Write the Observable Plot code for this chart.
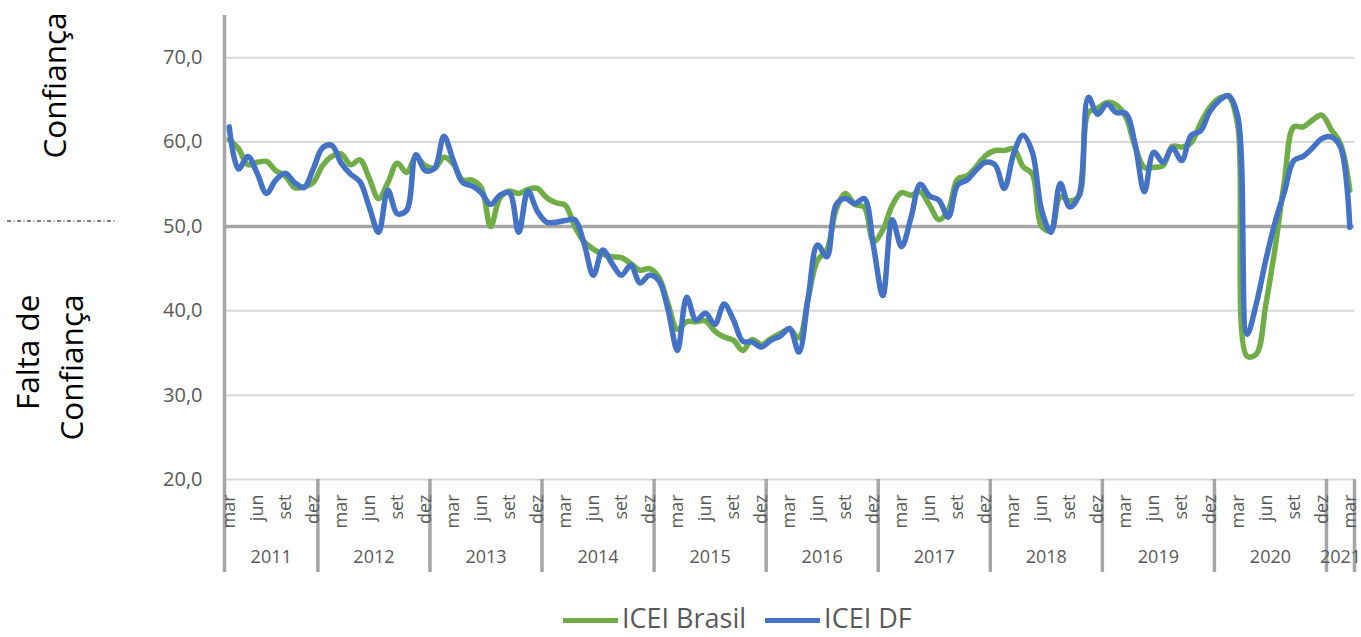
<!DOCTYPE html>
<html><head><meta charset="utf-8">
<script src="https://cdn.jsdelivr.net/npm/d3@7"></script>
<script src="https://cdn.jsdelivr.net/npm/@observablehq/plot@0.6"></script>
<style>
body{margin:0;background:#fff;font-family:"Open Sans",sans-serif;}
#wrap{position:relative;width:1361px;height:637px;overflow:hidden;background:#fff;}
#legend{position:absolute;left:563px;top:603px;height:29px;display:flex;align-items:center;font-family:"Open Sans",sans-serif;font-size:27px;line-height:29px;color:#595959;white-space:nowrap;}
.item{display:flex;align-items:center;margin-right:19px;}
.sw{width:55px;height:5px;margin-right:4px;margin-top:6px;}
#sep{position:absolute;left:0;top:215px;}
</style></head><body>
<div id="wrap"><div id="chart"></div>
<svg id="sep" width="120" height="12"><line x1="7" x2="115" y1="6" y2="6" stroke="#000" stroke-width="1" stroke-dasharray="4 2.5 1 2.5"/></svg>
<div id="legend"></div></div>
<script>
const monthNames = ["jan","fev","mar","abr","mai","jun","jul","ago","set","out","nov","dez"];
const years = [2011,2012,2013,2014,2015,2016,2017,2018,2019,2020,2021];
const tickMonths = ["mar","jun","set","dez"];
const yTicks = [20,30,40,50,60,70];
const seriesNames = ["ICEI Brasil","ICEI DF"];
const seriesColors = ["#70ad47","#4472c4"];

// ICEI Brasil, monthly mar/2011 - mar/2021
const iceiBrasil = [
 60.3,59.2,57.3,57.6,57.7,56.6,56.0,54.6,54.7,55.2,
 57.2,58.3,58.6,57.3,57.9,55.7,53.3,55.2,57.5,56.4,58.2,57.2,
 56.9,58.2,57.4,55.5,55.5,54.6,50.0,53.4,54.2,53.9,54.4,54.5,
 53.4,52.8,52.5,50.0,48.2,47.3,46.7,46.4,46.3,45.6,44.8,45.0,
 44.0,40.8,37.8,38.7,38.7,38.8,37.6,36.9,36.5,35.3,36.6,36.0,
 36.7,37.3,37.8,36.8,41.5,46.0,47.2,52.0,53.9,52.6,52.3,48.2,
 49.6,52.5,54.0,53.7,54.1,52.5,50.8,51.9,55.6,56.0,57.1,58.4,
 59.0,59.0,59.2,57.1,56.2,50.0,49.5,53.5,53.0,53.6,63.5,64.0,
 64.7,64.4,63.0,59.5,57.0,57.0,57.2,59.5,59.4,59.9,62.2,64.1,
 65.2,65.4,62.0,34.6,34.9,40.7,47.5,55.4,61.8,61.8,62.6,63.2,
 61.5,59.8,54.3
];
// ICEI DF, monthly mar/2011 - mar/2021
const iceiDF = [
 61.8,56.8,58.3,56.3,53.9,55.5,56.3,55.2,54.6,56.8,
 59.3,59.6,57.5,56.2,55.3,52.3,49.3,54.3,51.5,51.9,58.5,56.6,
 56.9,60.7,57.8,55.2,54.8,54.0,52.6,53.7,54.0,49.3,54.2,51.8,
 50.5,50.5,50.7,50.8,48.0,44.2,47.2,45.6,44.2,45.4,43.3,44.2,
 43.6,40.1,35.3,41.6,38.9,39.7,38.4,40.8,38.9,36.4,36.3,35.7,
 36.5,37.0,37.9,35.1,41.5,47.8,46.4,52.6,53.3,52.7,53.3,47.6,
 41.8,50.8,47.6,51.0,55.0,53.6,53.1,51.1,54.9,55.5,56.7,57.6,
 57.3,54.5,58.6,60.8,58.8,51.9,49.3,55.1,52.3,53.7,65.3,63.3,
 64.5,63.5,63.4,59.8,54.1,58.8,57.6,59.3,57.8,60.8,61.3,63.6,
 64.9,65.5,63.0,37.2,40.9,46.0,50.5,54.1,57.8,58.3,59.3,60.4,
 60.6,59.4,49.9
];

// categories
const periods = [];
for (const yr of years) {
  monthNames.forEach((m, k) => {
    if (yr === 2011 && k < 2) return;
    if (yr === 2021 && k > 2) return;
    periods.push({i: periods.length, year: yr, month: m});
  });
}
const n = periods.length;
const rows = [];
[iceiBrasil, iceiDF].forEach((vals, s) => vals.forEach((v, i) => rows.push({i, serie: seriesNames[s], value: v})));

const monthTicks = periods.filter(p => tickMonths.includes(p.month));
const yearLabels = years.map(yr => {
  const ps = periods.filter(p => p.year === yr);
  return {year: String(yr), mid: (ps[0].i + ps[ps.length-1].i) / 2, start: ps[0].i - 0.5, end: ps[ps.length-1].i + 0.5};
});
const boundaries = yearLabels.map(d => d.end);
const fmt = d => d.toFixed(1).replace(".", ",");
const gray = "#595959";
const lineOpts = {x: "i", y: "value", strokeWidth: 5.5, curve: "catmull-rom", strokeLinecap: "round", strokeLinejoin: "round"};

const chart = Plot.plot({
  width: 1361, height: 600,
  marginLeft: 224, marginRight: 7, marginTop: 15, marginBottom: 121,
  x: {type: "linear", domain: [-0.5, n - 0.5], axis: null},
  y: {domain: [20, 75], axis: null},
  style: {fontFamily: '"Open Sans", sans-serif', background: "transparent", overflow: "visible"},
  marks: [
    Plot.ruleY(yTicks.filter(d => d !== 50), {stroke: "#d9d9d9", strokeWidth: 2}),
    Plot.ruleY([50], {stroke: "#a6a6a6", strokeWidth: 3.5}),
    Plot.ruleX([-0.5], {stroke: "#a6a6a6", strokeWidth: 3.5, insetBottom: -93}),
    Plot.ruleX(boundaries, {stroke: "#a6a6a6", strokeWidth: 3.5, insetTop: 464, insetBottom: -93}),
    Plot.text(yTicks, {y: d => d, text: fmt, frameAnchor: "left", textAnchor: "end", dx: -22, fontSize: 20, fill: gray}),
    Plot.text(monthTicks, {x: "i", text: "month", frameAnchor: "bottom", rotate: -90, textAnchor: "end", lineAnchor: "middle", dy: 15, fontSize: 18, fill: gray}),
    Plot.text(yearLabels, {x: "mid", text: "year", frameAnchor: "bottom", lineAnchor: "middle", dy: 78, fontSize: 18, fill: gray}),
    Plot.line(rows.filter(r => r.serie === seriesNames[0]), {...lineOpts, stroke: seriesColors[0]}),
    Plot.line(rows.filter(r => r.serie === seriesNames[1]), {...lineOpts, stroke: seriesColors[1]}),
    Plot.text(["Confiança"], {frameAnchor: "top-left", dx: -169, dy: 70, rotate: -90, textAnchor: "middle", lineAnchor: "middle", fontSize: 31.5, fill: "#000"}),
    Plot.text(["Falta de"], {frameAnchor: "top-left", dx: -196, dy: 279, rotate: -90, textAnchor: "end", lineAnchor: "middle", fontSize: 31.5, fill: "#000"}),
    Plot.text(["Confiança"], {frameAnchor: "top-left", dx: -152, dy: 279, rotate: -90, textAnchor: "end", lineAnchor: "middle", fontSize: 31.5, fill: "#000"})
  ]
});
document.getElementById("chart").appendChild(chart);

const legend = document.getElementById("legend");
seriesNames.forEach((name, s) => {
  const it = document.createElement("div"); it.className = "item";
  const sw = document.createElement("div"); sw.className = "sw"; sw.style.background = seriesColors[s];
  const tx = document.createElement("span"); tx.textContent = name;
  it.appendChild(sw); it.appendChild(tx); legend.appendChild(it);
});
</script></body></html>
